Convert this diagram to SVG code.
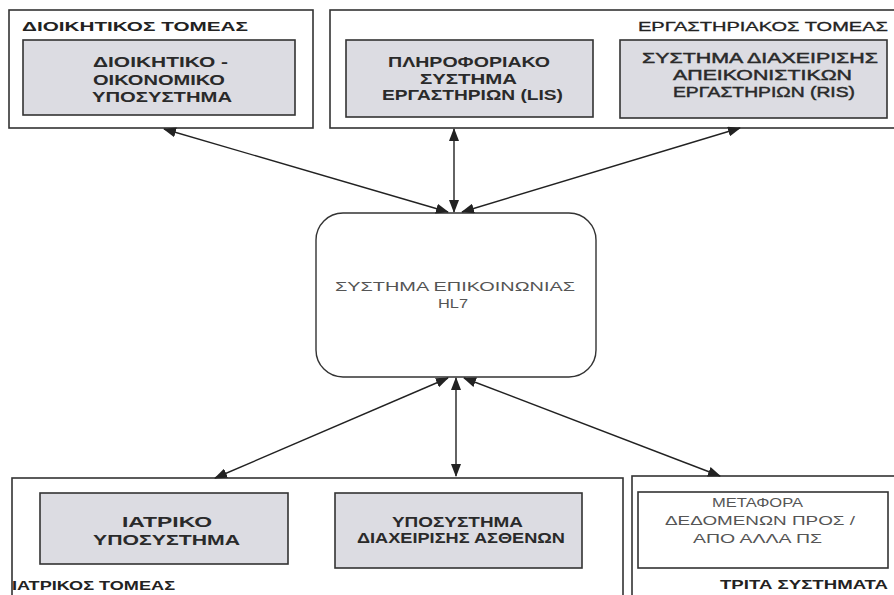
<svg xmlns="http://www.w3.org/2000/svg" width="894" height="595" viewBox="0 0 894 595">
  <defs>
    <marker id="ah" viewBox="0 0 13 10" refX="12" refY="5" markerWidth="13" markerHeight="10" markerUnits="userSpaceOnUse" orient="auto-start-reverse">
      <path d="M0,0 L13,5 L0,10 Z" fill="#222"/>
    </marker>
  </defs>
  <style>
    .outer { fill: #ffffff; stroke: #333; stroke-width: 1.6; }
    .inner { fill: #dcdce2; stroke: #333; stroke-width: 1.6; }
    .plain { fill: #ffffff; stroke: #333; stroke-width: 1.6; }
    .hub { fill: #ffffff; stroke: #333; stroke-width: 1.4; }
    text { font-family: "Liberation Sans", Arial, sans-serif; }
    .title { font-size: 13px; font-weight: bold; fill: #222; }
    .title-light { font-size: 13px; fill: #222; stroke: #222; stroke-width: 0.3; }
    .label { font-size: 14.5px; font-weight: bold; fill: #2a2a2a; }
    .label-mid { font-size: 14.5px; fill: #2a2a2a; stroke: #2a2a2a; stroke-width: 0.45; }
    .label-light { font-size: 13px; fill: #555; }
    .hub-text { font-size: 13px; fill: #555; }
    .conn { stroke: #222; stroke-width: 1.4; fill: none; marker-start: url(#ah); marker-end: url(#ah); }
  </style>
  <rect width="894" height="595" fill="#ffffff"/>

  <!-- administrative sector -->
  <g id="admin-sector">
    <rect class="outer" x="9" y="10" width="304" height="118"/>
    <text class="title" x="22" y="31" textLength="226" lengthAdjust="spacingAndGlyphs">ΔΙΟΙΚΗΤΙΚΟΣ ΤΟΜΕΑΣ</text>
    <g id="admin-subsystem">
      <rect class="inner" x="23" y="40" width="272" height="75"/>
      <text class="label" x="93" y="67" textLength="135" lengthAdjust="spacingAndGlyphs">ΔΙΟΙΚΗΤΙΚΟ -</text>
      <text class="label" x="93" y="85" textLength="132" lengthAdjust="spacingAndGlyphs">ΟΙΚΟΝΟΜΙΚΟ</text>
      <text class="label" x="92" y="102" textLength="140" lengthAdjust="spacingAndGlyphs">ΥΠΟΣΥΣΤΗΜΑ</text>
    </g>
  </g>

  <!-- laboratory sector -->
  <g id="lab-sector">
    <rect class="outer" x="330" y="10" width="570" height="118"/>
    <text class="title-light" x="638" y="31" textLength="250" lengthAdjust="spacingAndGlyphs">ΕΡΓΑΣΤΗΡΙΑΚΟΣ ΤΟΜΕΑΣ</text>
    <g id="lis">
      <rect class="inner" x="346" y="40" width="247" height="77"/>
      <text class="label" x="388" y="67" textLength="162" lengthAdjust="spacingAndGlyphs">ΠΛΗΡΟΦΟΡΙΑΚΟ</text>
      <text class="label" x="420" y="84" textLength="97" lengthAdjust="spacingAndGlyphs">ΣΥΣΤΗΜΑ</text>
      <text class="label" x="382" y="100" textLength="181" lengthAdjust="spacingAndGlyphs">ΕΡΓΑΣΤΗΡΙΩΝ (LIS)</text>
    </g>
    <g id="ris">
      <rect class="inner" x="620" y="40" width="267" height="78"/>
      <text class="label-mid" x="642" y="63" textLength="236" lengthAdjust="spacingAndGlyphs">ΣΥΣΤΗΜΑ ΔΙΑΧΕΙΡΙΣΗΣ</text>
      <text class="label-mid" x="673" y="80" textLength="179" lengthAdjust="spacingAndGlyphs">ΑΠΕΙΚΟΝΙΣΤΙΚΩΝ</text>
      <text class="label-mid" x="673" y="97" textLength="182" lengthAdjust="spacingAndGlyphs">ΕΡΓΑΣΤΗΡΙΩΝ (RIS)</text>
    </g>
  </g>

  <!-- communication hub -->
  <g id="hl7-hub">
    <rect class="hub" x="316" y="213" width="280" height="164" rx="27" ry="27"/>
    <text class="hub-text" x="335" y="291" textLength="240" lengthAdjust="spacingAndGlyphs">ΣΥΣΤΗΜΑ ΕΠΙΚΟΙΝΩΝΙΑΣ</text>
    <text class="hub-text" x="438" y="308" textLength="30" lengthAdjust="spacingAndGlyphs">HL7</text>
  </g>

  <!-- medical sector -->
  <g id="medical-sector">
    <rect class="outer" x="12" y="478" width="611" height="130"/>
    <text class="title" x="12" y="590" textLength="163" lengthAdjust="spacingAndGlyphs">ΙΑΤΡΙΚΟΣ ΤΟΜΕΑΣ</text>
    <g id="medical-subsystem">
      <rect class="inner" x="40" y="493" width="248" height="71"/>
      <text class="label" x="122" y="527" textLength="90" lengthAdjust="spacingAndGlyphs">ΙΑΤΡΙΚΟ</text>
      <text class="label" x="93" y="545" textLength="147" lengthAdjust="spacingAndGlyphs">ΥΠΟΣΥΣΤΗΜΑ</text>
    </g>
    <g id="patient-subsystem">
      <rect class="inner" x="335" y="493" width="247" height="75"/>
      <text class="label" x="392" y="527" textLength="131" lengthAdjust="spacingAndGlyphs">ΥΠΟΣΥΣΤΗΜΑ</text>
      <text class="label" x="357" y="543" textLength="208" lengthAdjust="spacingAndGlyphs">ΔΙΑΧΕΙΡΙΣΗΣ ΑΣΘΕΝΩΝ</text>
    </g>
  </g>

  <!-- third-party systems -->
  <g id="third-party">
    <rect class="outer" x="632" y="476" width="270" height="132"/>
    <text class="title" x="720" y="589" textLength="168" lengthAdjust="spacingAndGlyphs">ΤΡΙΤΑ ΣΥΣΤΗΜΑΤΑ</text>
    <g id="data-transfer">
      <rect class="plain" x="638" y="492" width="250" height="76"/>
      <text class="label-light" x="712" y="507" textLength="91" lengthAdjust="spacingAndGlyphs">ΜΕΤΑΦΟΡΑ</text>
      <text class="label-light" x="665" y="525" textLength="190" lengthAdjust="spacingAndGlyphs">ΔΕΔΟΜΕΝΩΝ ΠΡΟΣ /</text>
      <text class="label-light" x="693" y="543" textLength="129" lengthAdjust="spacingAndGlyphs">ΑΠΟ ΑΛΛΑ ΠΣ</text>
    </g>
  </g>

  <!-- connectors -->
  <g id="connectors">
    <line class="conn" x1="164" y1="129" x2="448" y2="212"/>
    <line class="conn" x1="454" y1="129" x2="454" y2="212"/>
    <line class="conn" x1="740" y1="128" x2="462" y2="212"/>
    <line class="conn" x1="448" y1="378" x2="215" y2="478"/>
    <line class="conn" x1="456" y1="378" x2="456" y2="476"/>
    <line class="conn" x1="464" y1="378" x2="720" y2="476"/>
  </g>
</svg>
